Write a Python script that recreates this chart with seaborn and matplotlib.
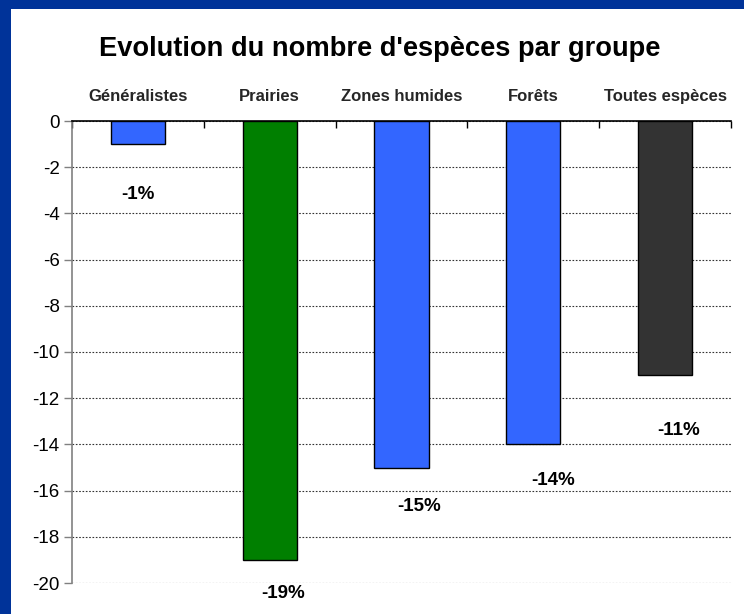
import matplotlib
matplotlib.use("Agg")
import matplotlib.pyplot as plt
import seaborn as sns
import pandas as pd
import numpy as np
from matplotlib.patches import Rectangle

categories = ["Généralistes", "Prairies", "Zones humides", "Forêts", "Toutes espèces"]
values = [-1, -19, -15, -14, -11]
labels = ["-1%", "-19%", "-15%", "-14%", "-11%"]
colors = ["#3366ff", "#007f00", "#3366ff", "#3366ff", "#333333"]
yticks = [0, -2, -4, -6, -8, -10, -12, -14, -16, -18, -20]
title = "Evolution du nombre d'espèces par groupe"

# label placement offsets (points) relative to bar end
label_dx = [0, 10, 12.5, 14.5, 10]
label_dy = [-36, -24, -28, -26, -40]

sns.set_theme(style="white")
plt.rcParams["font.family"] = ["Liberation Sans", "DejaVu Sans"]

W, H = 744, 614
fig = plt.figure(figsize=(W / 100, H / 100), dpi=100)
fig.patch.set_facecolor("white")
ax = fig.add_axes([72 / W, (H - 583) / H, (731 - 72) / W, (583 - 121) / H])

df = pd.DataFrame({"cat": categories, "val": values})
sns.barplot(data=df, x="cat", y="val", hue="cat", palette=colors, legend=False,
            width=0.41, edgecolor="black", linewidth=1.0, saturation=1, ax=ax)

ax.set_ylim(-20, 0)
ax.set_xlim(-0.5, len(categories) - 0.5)
ax.set_yticks(yticks)
ax.set_yticklabels([str(t) for t in yticks], fontsize=13.5, color="black")
ax.yaxis.grid(True, linestyle=(0, (1.5, 1.5)), color="#333333", linewidth=0.8)
ax.set_axisbelow(True)
ax.set_xlabel("")
ax.set_ylabel("")

# category labels on top
ax.xaxis.tick_top()
ax.set_xticks(range(len(categories)))
ax.set_xticklabels(categories, fontsize=12, fontweight="bold")
ax.tick_params(axis="x", which="major", length=0, pad=12)
ax.set_xticks(np.arange(-0.5, len(categories), 1.0), minor=True)
ax.tick_params(axis="x", which="minor", top=True, bottom=False, direction="in",
               length=5, width=1, color="black")
ax.tick_params(axis="y", direction="out", length=6, width=1, color="#808080", pad=3, left=True)

for s in ["bottom", "right"]:
    ax.spines[s].set_visible(False)
ax.spines["top"].set_color("black")
ax.spines["top"].set_linewidth(1.2)
ax.spines["left"].set_color("#808080")
ax.spines["left"].set_linewidth(1.2)

for i, (v, lab) in enumerate(zip(values, labels)):
    ax.annotate(lab, xy=(i, v), xytext=(label_dx[i], label_dy[i]), textcoords="offset points",
                ha="center", va="center", fontsize=13.5, fontweight="bold", color="black",
                annotation_clip=False)

fig.text(380 / W, 1 - 49 / H, title, ha="center", va="center", fontsize=19.6,
         fontweight="bold", color="black")

# blue frame
fig.patches.append(Rectangle((0, 1 - 9 / H), 1, 9 / H, transform=fig.transFigure,
                             facecolor="#003399", edgecolor="none", zorder=10))
fig.patches.append(Rectangle((0, 0), 11 / W, 1, transform=fig.transFigure,
                             facecolor="#003399", edgecolor="none", zorder=10))

fig.savefig("out.png", dpi=100)
